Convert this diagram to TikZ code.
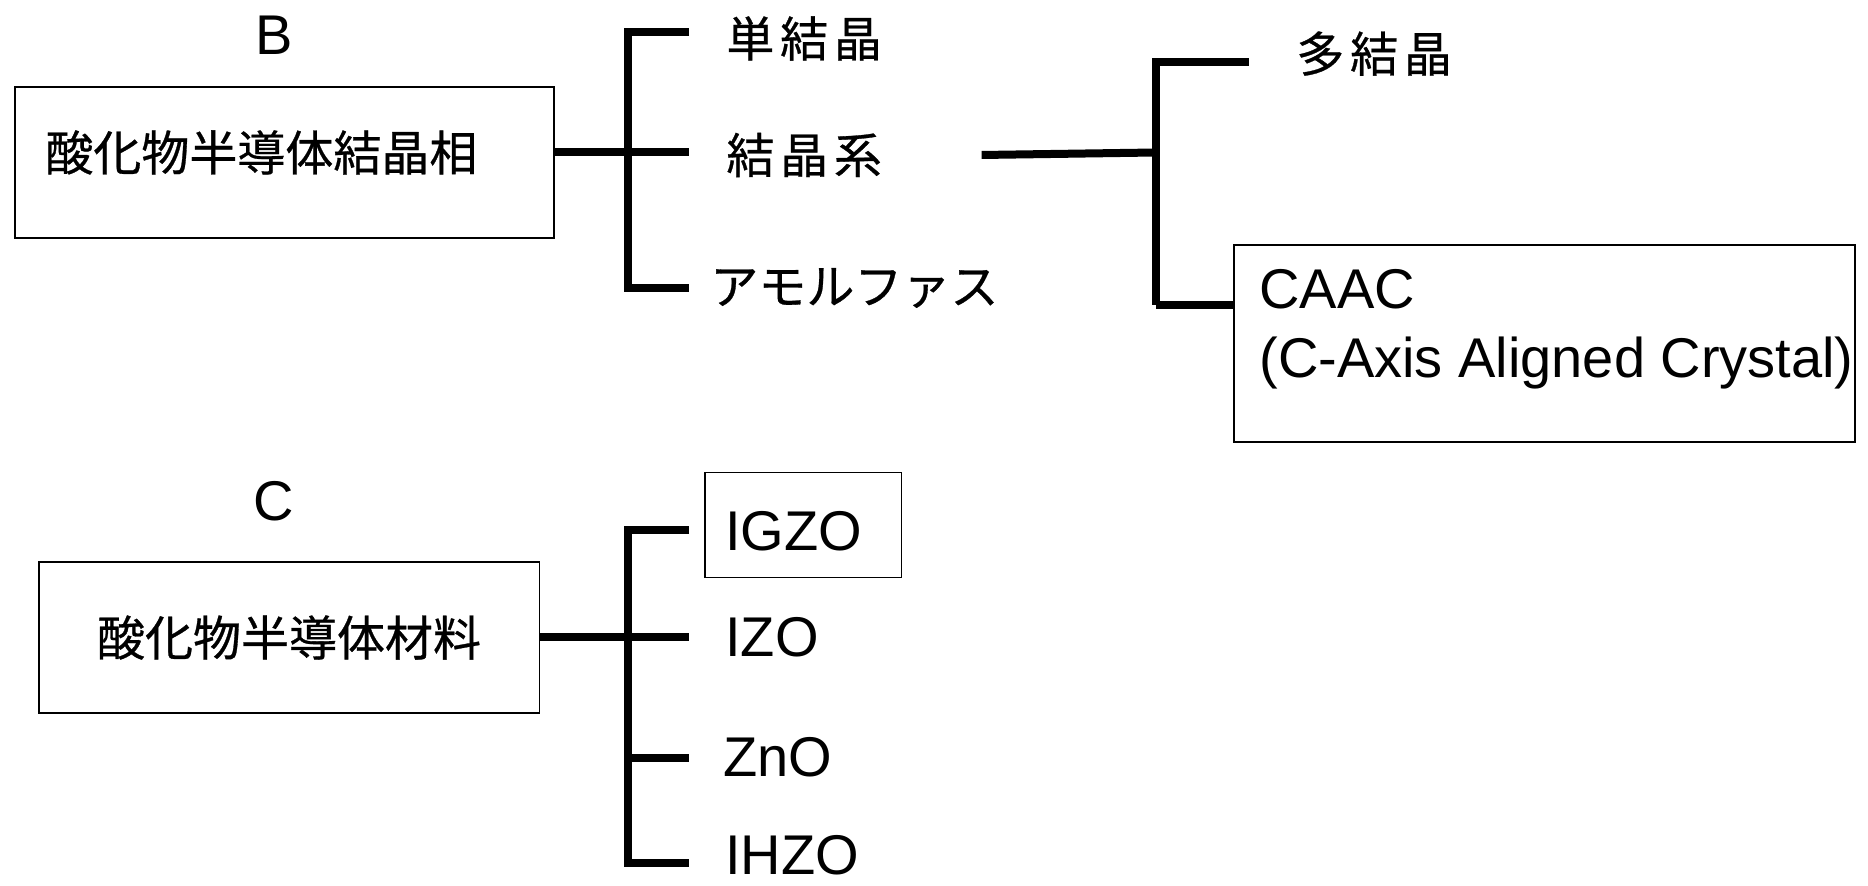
\documentclass[tikz,border=0pt]{standalone}
\usepackage{fontspec}
\setmainfont{Liberation Sans}
\newfontfamily\cjk[FakeBold=0.6]{Noto Sans CJK JP}
\newfontfamily\cjkspaced[LetterSpace=12,FakeBold=0.6]{Noto Sans CJK JP}
\begin{document}
\begin{tikzpicture}[x=0.5pt,y=-0.5pt,
  box/.style={draw,line width=0.8pt,inner sep=0,anchor=north west},
  lat/.style={inner sep=0,font=\fontsize{28}{32}\selectfont},
  jlab/.style={inner sep=0,anchor=west,font=\cjkspaced\fontsize{24}{28}\selectfont},
  jkat/.style={inner sep=0,anchor=west,font=\cjk\fontsize{24}{28}\selectfont},
  jbox/.style={inner sep=0,font=\cjk\fontsize{24}{28}\selectfont},
  tree/.style={line width=4pt}]
\useasboundingbox (0,0) rectangle (1868,886);

% ---------- B ----------
\node[lat] (labB) at (274,35) {B};
\node[box,minimum width=269.5pt,minimum height=75.5pt] (b1) at (14,86) {};
\node[jbox,anchor=west] (b1t) at (45,152.5) {酸化物半導体結晶相};

\coordinate (j1) at (628,152);
\coordinate (t1) at (628,32);
\coordinate (t3) at (628,288);
\coordinate (e1) at (689,32);
\coordinate (e2) at (689,152);
\coordinate (e3) at (689,288);
\draw[tree] (b1.east |- j1) -- (j1);
\draw[tree] (e1) -- (t1) -- (t3) -- (e3);
\draw[tree] (j1) -- (e2);

\node[jlab] (sc) at (726,38.5) {単結晶};
\node[jlab] (cs) at (726,155) {結晶系};
\node[jkat] (am) at (710,288) {アモルファス};

\coordinate (s2) at (981.6,155);
\coordinate (j2) at (1155.6,152.5);
\coordinate (u1) at (1155.6,62);
\coordinate (u2) at (1155.6,305);
\coordinate (f1) at (1248.5,62);
\draw[tree] (s2) -- (j2);
\draw[tree] (f1) -- (u1) -- (u2);
\node[jlab] (pc) at (1296,53.6) {多結晶};

\node[box,minimum width=310.5pt,minimum height=98.5pt] (caac) at (1233,244.2) {};
\draw[tree] (u2) -- (caac.west |- u2);
\node[lat,anchor=base west] (caac1) at (1259,309) {CAAC};
\node[lat,anchor=base west] (caac2) at (1259,378) {(C-Axis Aligned Crystal)};

% ---------- C ----------
\node[lat] (labC) at (274,501.5) {C};
\node[box,minimum width=250.25pt,minimum height=75.75pt] (b2) at (38,561) {};
\node[jbox] (b2t) at (b2.center) {酸化物半導体材料};

\coordinate (k0) at (628,637);
\coordinate (k1) at (628,530);
\coordinate (k3) at (628,757.7);
\coordinate (k4) at (628,862.5);
\coordinate (g1) at (689,530);
\coordinate (g2) at (689,637);
\coordinate (g3) at (689,757.7);
\coordinate (g4) at (689,862.5);
\draw[tree] (b2.east |- k0) -- (k0) -- (g2);
\draw[tree] (g1) -- (k1) -- (k4) -- (g4);
\draw[tree] (k3) -- (g3);

\node[box,minimum width=98.3pt,minimum height=52.45pt] (igzob) at (704,471.7) {};
\node[lat,anchor=west] (igzo) at (725,531) {IGZO};
\node[lat,anchor=west] (izo) at (725,637) {IZO};
\node[lat,anchor=west] (zno) at (723,757.7) {ZnO};
\node[lat,anchor=west] (ihzo) at (725,855) {IHZO};
\end{tikzpicture}
\end{document}
